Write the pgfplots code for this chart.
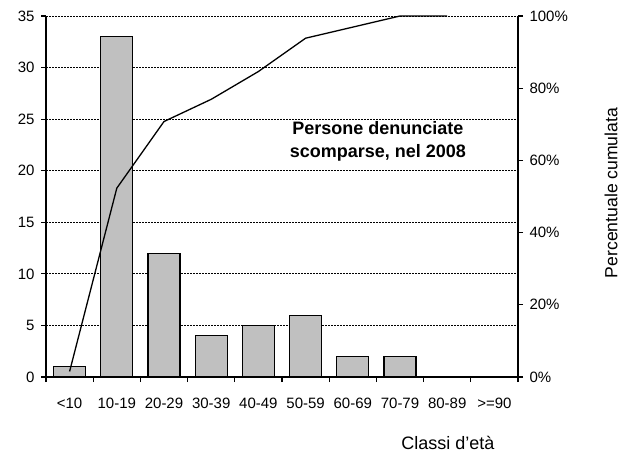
\documentclass[border=0pt]{standalone}
\usepackage{fontspec}
\setmainfont{Liberation Sans}
\usepackage{pgfplots}
\pgfplotsset{compat=1.18}
\definecolor{barfill}{RGB}{192,192,192}

\begin{document}
\begin{tikzpicture}[x=1pt,y=1pt]
\useasboundingbox (0,0) rectangle (623,452);
\pgfplotsset{
  common/.style={
    scale only axis, width=472pt, height=361pt,
    at={(46pt,75pt)}, anchor=south west,
    xmin=-0.5, xmax=9.5,
    tick align=outside, major tick length=5pt,
    /pgf/number format/assume math mode=true,
    tick label style={font=\fontsize{15}{18}\selectfont},
    axis line style={line width=1.2pt,-},
    every tick/.style={line width=1.2pt, black},
  }
}
% counts per age class
\begin{axis}[common,
  axis x line*=bottom, axis y line*=left,
  ymin=0, ymax=35, ytick={0,5,...,35},
  yticklabel style={xshift=-3pt},
  ymajorgrids, grid style={black, line width=0.8pt, dash pattern=on 2pt off 1pt},
  xtick={-0.5,0.5,...,9.5}, xticklabels={},
  extra x ticks={0,1,...,9},
  extra x tick labels={<10,10-19,20-29,30-39,40-49,50-59,60-69,70-79,80-89,>=90},
  extra x tick style={major tick length=0pt, grid=none,
    xticklabel style={anchor=base, yshift=-31pt}},
  ybar, bar width=32pt,
]
\addplot[fill=barfill, draw=black, line width=1.2pt] coordinates {
  (0,1) (1,33) (2,12) (3,4) (4,5) (5,6) (6,2) (7,2)
};
\node[font=\bfseries\fontsize{18}{23}\selectfont, align=center]
  at (rel axis cs:0.703,0.654) {Persone denunciate\\scomparse, nel 2008};
\end{axis}
% cumulative percentage
\begin{axis}[common,
  axis x line=none, axis y line*=right,
  ymin=0, ymax=100, ytick={0,20,...,100},
  yticklabels={0\%,20\%,40\%,60\%,80\%,100\%},
  yticklabel style={xshift=3pt},
]
\addplot[black, line width=1.3pt, mark=none] coordinates {
  (0,1.54) (1,52.31) (2,70.77) (3,76.92) (4,84.62) (5,93.85) (6,96.92) (7,100) (8,100)
};
\end{axis}
\node[font=\fontsize{18}{20}\selectfont] at (448,9) {Classi d'età};
\node[font=\fontsize{17.6}{20}\selectfont, rotate=90] at (611,259) {Percentuale cumulata};
\end{tikzpicture}
\end{document}
